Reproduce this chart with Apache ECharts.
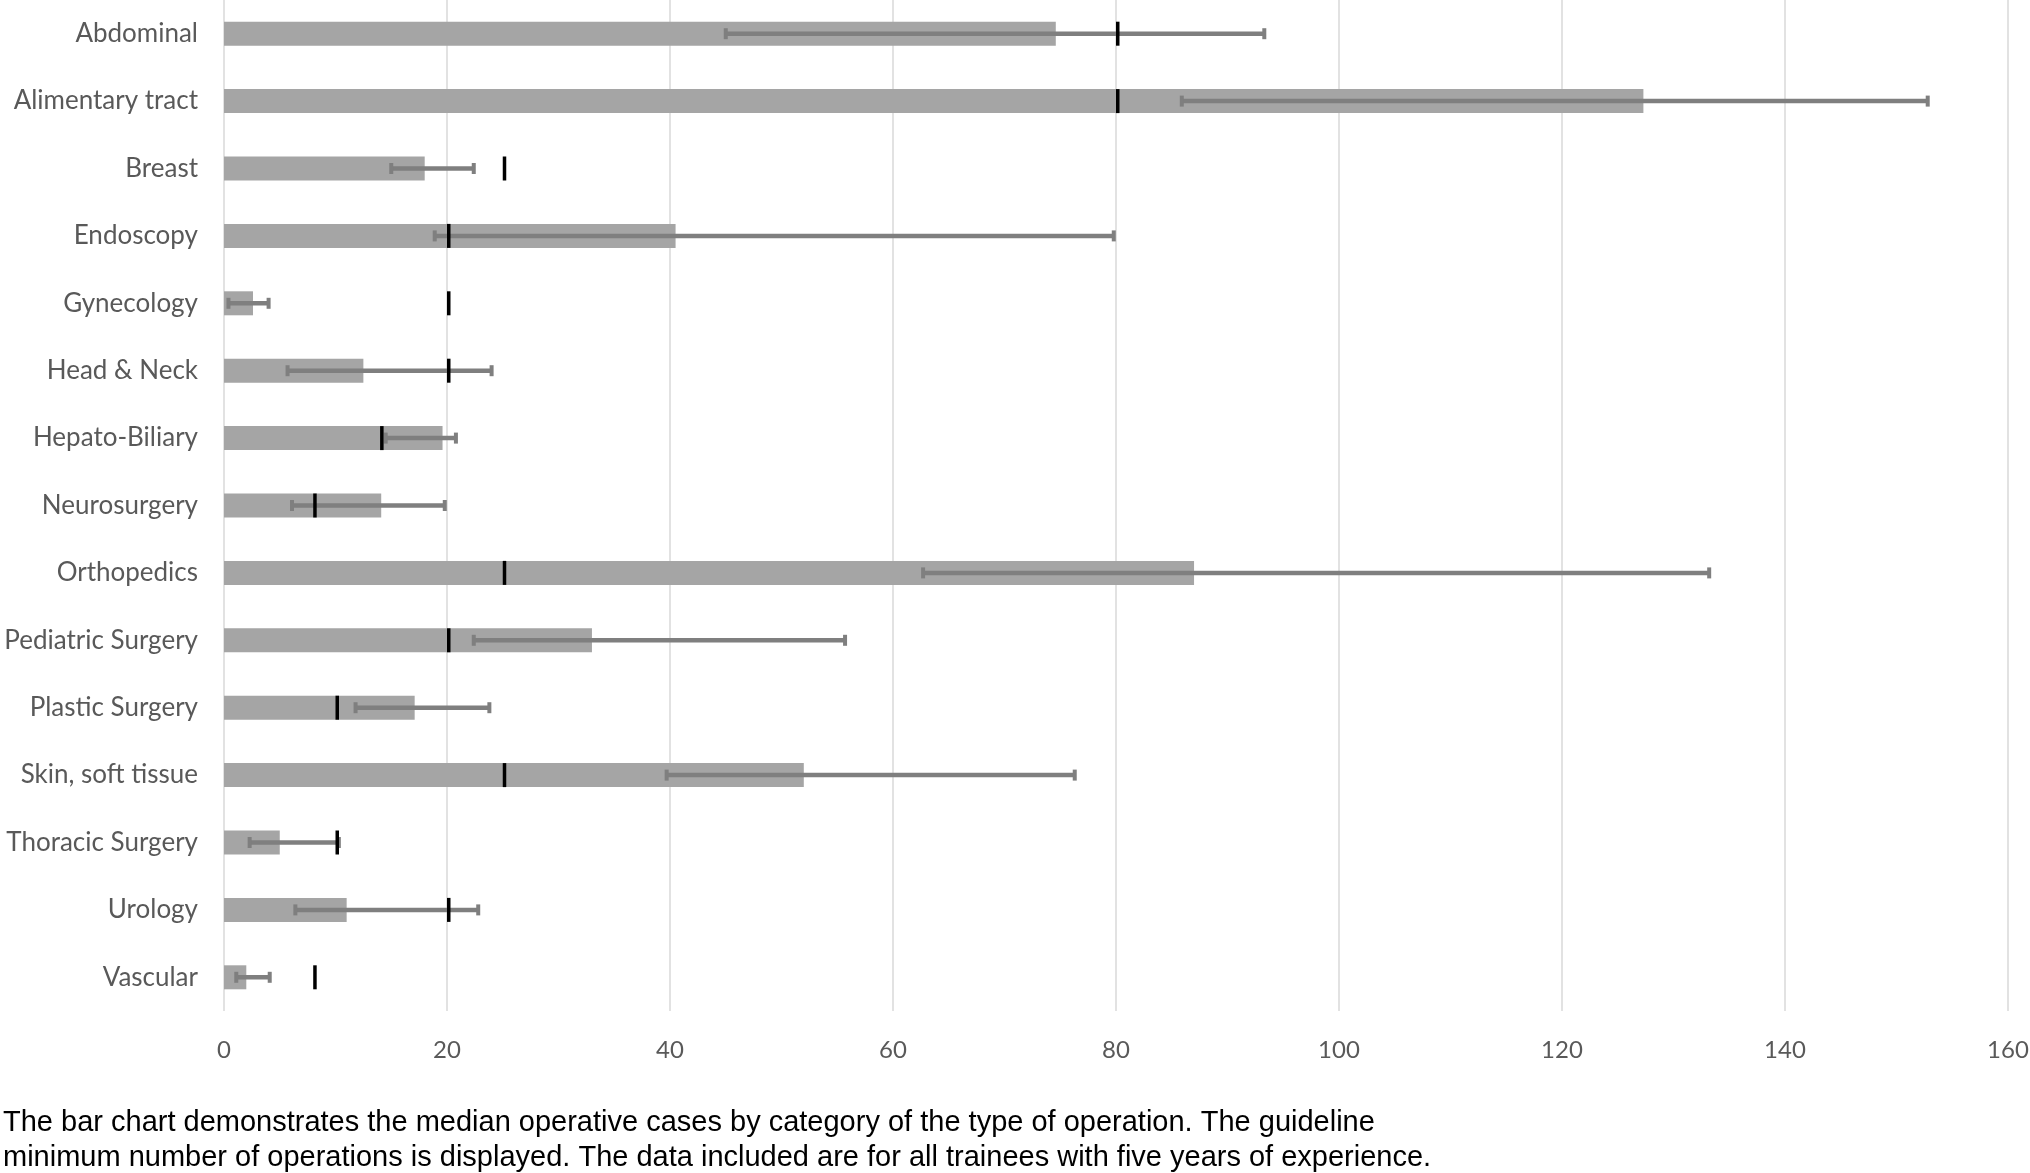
<!DOCTYPE html>
<html>
<head>
<meta charset="utf-8">
<script src="https://cdn.jsdelivr.net/npm/echarts@6/dist/echarts.min.js"></script>
<style>
html,body{margin:0;padding:0;background:#fff;}
#chart{width:2030px;height:1173px;}
</style>
</head>
<body>
<div id="chart"></div>
<script>
var categories = ["Abdominal","Alimentary tract","Breast","Endoscopy","Gynecology","Head & Neck","Hepato-Biliary","Neurosurgery","Orthopedics","Pediatric Surgery","Plastic Surgery","Skin, soft tissue","Thoracic Surgery","Urology","Vascular"];
var medianCases = [74.6, 127.3, 18, 40.5, 2.6, 12.5, 19.6, 14.1, 87, 33, 17.1, 52, 5, 11, 2];
var errorLow = [45, 85.9, 15, 18.9, 0.4, 5.7, 14.5, 6.1, 62.7, 22.4, 11.8, 39.7, 2.3, 6.4, 1.1];
var errorHigh = [93.3, 152.8, 22.4, 79.8, 4, 24, 20.8, 19.8, 133.2, 55.7, 23.8, 76.3, 10.3, 22.8, 4.1];
var guidelineMin = [80, 80, 25, 20, 20, 20, 14, 8, 25, 20, 10, 25, 10, 20, 8];
var xTicks = [0, 20, 40, 60, 80, 100, 120, 140, 160];
var captionLines = [
  "The bar chart demonstrates the median operative cases by category of the type of operation. The guideline",
  "minimum number of operations is displayed. The data included are for all trainees with five years of experience."
];

var errData = categories.map(function (c, i) { return [errorLow[i], errorHigh[i], i]; });
var guideData = categories.map(function (c, i) { return [guidelineMin[i], i]; });

var chart = echarts.init(document.getElementById('chart'), null, {renderer: 'canvas'});
chart.setOption({
  animation: false,
  backgroundColor: '#ffffff',
  title: {
    text: captionLines.join('\n'),
    left: 3,
    top: 1105,
    padding: 0,
    textStyle: {fontFamily: 'Liberation Sans', fontSize: 29, fontWeight: 'normal', color: '#000', lineHeight: 35}
  },
  grid: {left: 224, right: 22, top: 0, bottom: 162, containLabel: false, outerBoundsMode: 'none'},
  xAxis: {
    type: 'value', min: xTicks[0], max: xTicks[xTicks.length - 1], interval: 20,
    axisLine: {show: false}, axisTick: {show: false},
    splitLine: {show: true, lineStyle: {color: '#d9d9d9', width: 1.5}},
    axisLabel: {fontFamily: 'Lato', fontSize: 24, color: '#595959', margin: 27}
  },
  yAxis: {
    type: 'category', data: categories, inverse: true,
    axisLine: {show: false}, axisTick: {show: false}, splitLine: {show: false},
    axisLabel: {fontFamily: 'Lato', fontSize: 26, color: '#595959', margin: 26}
  },
  series: [
    {
      type: 'bar', data: medianCases, barWidth: 24,
      itemStyle: {color: '#a5a5a5'}, z: 2
    },
    {
      type: 'custom', data: errData, encode: {x: [0, 1], y: 2}, z: 3,
      renderItem: function (params, api) {
        var yi = api.value(2);
        var p1 = api.coord([api.value(0), yi]);
        var p2 = api.coord([api.value(1), yi]);
        var col = '#7f7f7f';
        return {
          type: 'group',
          children: [
            {type: 'line', shape: {x1: p1[0], y1: p1[1], x2: p2[0], y2: p2[1]}, style: {stroke: col, lineWidth: 4.5}},
            {type: 'rect', shape: {x: p1[0] - 2, y: p1[1] - 5.5, width: 4, height: 11}, style: {fill: col}},
            {type: 'rect', shape: {x: p2[0] - 2, y: p2[1] - 5.5, width: 4, height: 11}, style: {fill: col}}
          ]
        };
      }
    },
    {
      type: 'custom', data: guideData, encode: {x: 0, y: 1}, z: 4,
      renderItem: function (params, api) {
        var p = api.coord([api.value(0), api.value(1)]);
        return {type: 'rect', shape: {x: p[0], y: p[1] - 12, width: 3.5, height: 24}, style: {fill: '#000'}};
      }
    }
  ]
});
</script>
</body>
</html>
